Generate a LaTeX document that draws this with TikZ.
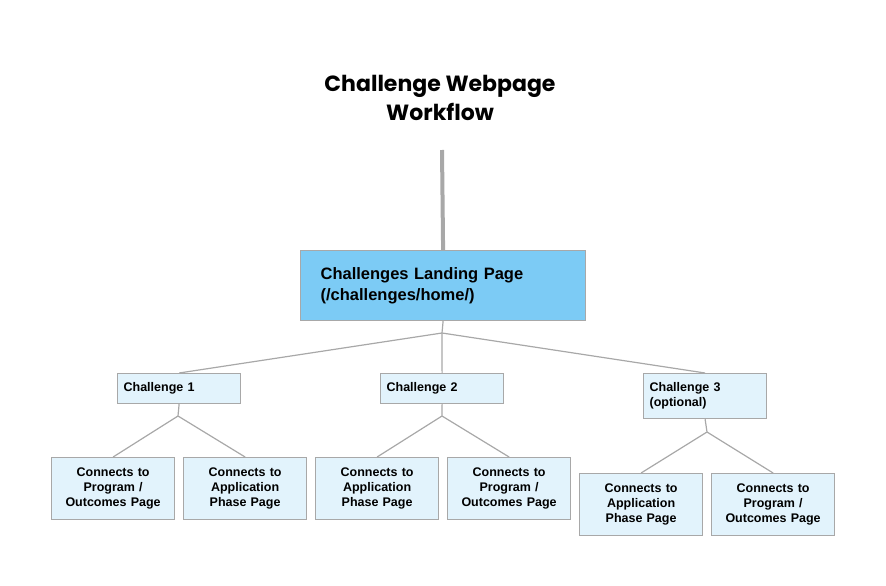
\documentclass[tikz,border=0pt]{standalone}
\usepackage{fontspec}
\setmainfont{Liberation Sans}
\newfontfamily\titlefont{Poppins}
\definecolor{edgegray}{HTML}{A8A8A8}
\definecolor{landblue}{HTML}{7CCBF5}
\definecolor{paleblue}{HTML}{E2F3FC}
\tikzset{
  page/.style={draw=edgegray, line width=1.2pt, fill=paleblue, text width=111pt, align=left, font=\bfseries\fontsize{12.5}{15}\selectfont, inner sep=6pt, anchor=north west},
  target/.style={page, minimum height=62pt, align=center},
  link/.style={draw=edgegray, line width=1.2pt}
}
\begin{document}
\begin{tikzpicture}[x=1pt,y=-1pt]
    \useasboundingbox (0,0) rectangle (886,586);
    \node[font=\titlefont\bfseries\fontsize{22}{29}\selectfont, align=center] (title) at (440,98) {Challenge Webpage\\Workflow};
    \coordinate (top) at (442,150);
    \node[page, fill=landblue, text width=245pt, minimum height=70pt, font=\bfseries\fontsize{16.5}{21}\selectfont, inner xsep=20pt, inner ysep=12pt] (landing) at (300,250) {Challenges Landing Page\\(/challenges/home/)};
    \draw[edgegray, line width=4pt] (top) -- (landing.north);
    \coordinate (hub) at (442,333);

    % challenges
    \node[page, minimum height=30pt] (ch1) at (117,373) {Challenge 1};
    \node[page, minimum height=30pt] (ch2) at (380,373) {Challenge 2};
    \node[page, minimum height=45pt] (ch3) at (643,373) {Challenge 3\\(optional)};
    \draw[link] (landing.south) -- (hub);
    \foreach \c in {ch1,ch2,ch3}
      \draw[link] (hub) -- (\c.north);

    % pages
    \node[target] (p1a) at (51,457) {Connects to\\Program /\\Outcomes Page};
    \node[target] (p1b) at (183,457) {Connects to\\Application\\Phase Page};
    \node[target] (p2a) at (315,457) {Connects to\\Application\\Phase Page};
    \node[target] (p2b) at (447,457) {Connects to\\Program /\\Outcomes Page};
    \node[target] (p3a) at (579,473) {Connects to\\Application\\Phase Page};
    \node[target] (p3b) at (711,473) {Connects to\\Program /\\Outcomes Page};

    \coordinate (h1) at (178,416);
    \coordinate (h2) at (442,416);
    \coordinate (h3) at (707,432);
    \draw[link] (ch1.south) -- (h1) (h1) -- (p1a.north) (h1) -- (p1b.north);
    \draw[link] (ch2.south) -- (h2) (h2) -- (p2a.north) (h2) -- (p2b.north);
    \draw[link] (ch3.south) -- (h3) (h3) -- (p3a.north) (h3) -- (p3b.north);
\end{tikzpicture}
\end{document}
